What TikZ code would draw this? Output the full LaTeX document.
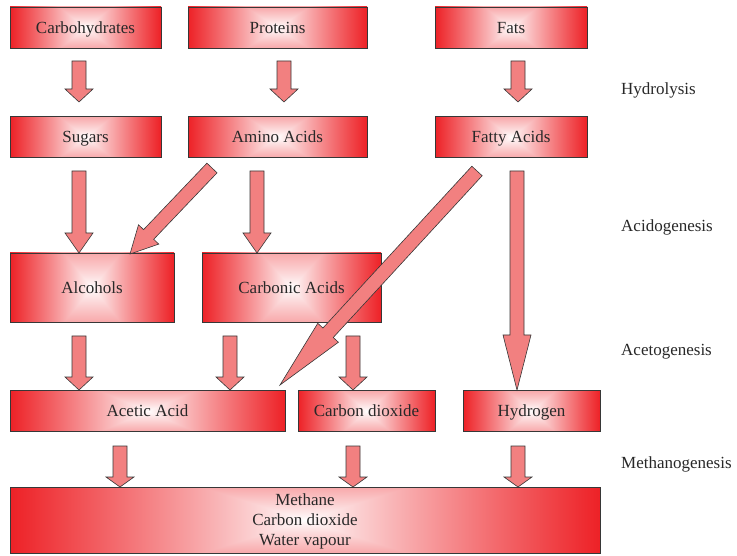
\documentclass[tikz,border=0pt]{standalone}
\usepackage{fontspec}
\setmainfont{Liberation Serif}
\usetikzlibrary{calc}

% rectangular gradient: white centre, red edges
\pgfdeclarefunctionalshading{rectgrad}{\pgfpoint{-50bp}{-50bp}}{\pgfpoint{50bp}{50bp}}{}{
  abs 0.35 mul exch abs
  2 copy lt {exch} if pop
  25 div dup 1 gt {pop 1} if
  0.9 exp
  dup 0.07 mul 1 exch sub exch
  dup 0.87 mul 1 exch sub exch
  0.85 mul 1 exch sub
}

\definecolor{arrowfill}{RGB}{242,128,128}
\definecolor{lineclr}{RGB}{55,55,55}
\definecolor{txt}{RGB}{40,40,40}

\tikzset{
  box/.style={draw=lineclr, line width=0.8pt, shade, shading=rectgrad,
    inner sep=0pt, text=txt, font=\fontsize{17}{20}\selectfont,
    text height=11.3pt, text depth=0pt},
  gasbox/.style={draw=lineclr, line width=0.8pt, shade, shading=rectgrad,
    inner sep=0pt, text=txt, font=\fontsize{17}{20}\selectfont,
    align=center, text depth=0pt},
  barrow/.style={draw=lineclr, line width=0.6pt, fill=arrowfill, line join=miter},
  stage/.style={anchor=west, inner sep=0pt, text=txt, font=\fontsize{17}{20}\selectfont,
    text height=11.3pt, text depth=0pt}
}

\newcommand\blockarrow[3]{% #1 head length, #2 start, #3 tip
  \coordinate (hb) at ($(#3)!#1!(#2)$);
  \draw[barrow] ($(#2)!7pt!90:(#3)$) -- ($(hb)!7pt!90:(#3)$) -- ($(hb)!14pt!90:(#3)$)
    -- (#3) -- ($(hb)!14pt!-90:(#3)$) -- ($(hb)!7pt!-90:(#3)$) -- ($(#2)!7pt!-90:(#3)$) -- cycle;
}

\begin{document}
\begin{tikzpicture}[x=1pt,y=-1pt]
\useasboundingbox (0,0) rectangle (737,556);

% boxes
\node[box, minimum width=151pt, minimum height=41pt] (carb) at (85.5,27.5) {Carbohydrates};
\node[box, minimum width=179pt, minimum height=41pt] (prot) at (277.5,27.5) {Proteins};
\node[box, minimum width=152pt, minimum height=41pt] (fats) at (511,27.5) {Fats};

\node[box, minimum width=151pt, minimum height=41pt] (sug) at (85.5,137) {Sugars};
\node[box, minimum width=179pt, minimum height=41pt] (amino) at (277.5,137) {Amino Acids};
\node[box, minimum width=152pt, minimum height=41pt] (fatty) at (511,137) {Fatty Acids};

\node[box, minimum width=164pt, minimum height=69pt] (alc) at (92,287.5) {Alcohols};
\node[box, minimum width=179pt, minimum height=69pt] (carbo) at (291.5,287.5) {Carbonic Acids};

\node[box, minimum width=275pt, minimum height=41pt] (acet) at (147.5,411) {Acetic Acid};
\node[box, minimum width=137pt, minimum height=41pt] (co2) at (366.5,411) {Carbon dioxide};
\node[box, minimum width=137pt, minimum height=41pt] (hyd) at (531.5,411) {Hydrogen};

\node[gasbox, minimum width=590pt, minimum height=66pt] (gas) at (305,520)
  {Methane\\Carbon dioxide\\Water vapour};

% stage labels
\node[stage] (l1) at (621,88.5) {Hydrolysis};
\node[stage] (l2) at (621,225.5) {Acidogenesis};
\node[stage] (l3) at (621,349.5) {Acetogenesis};
\node[stage] (l4) at (621,463) {Methanogenesis};

% arrow end points
\coordinate (a1s) at (79,61);   \coordinate (a1e) at (79,102);
\coordinate (a2s) at (284,61);  \coordinate (a2e) at (284,102);
\coordinate (a3s) at (518,61);  \coordinate (a3e) at (518,102);
\coordinate (a4s) at (79,171);  \coordinate (a4e) at (79,253);
\coordinate (a5s) at (212,168); \coordinate (a5e) at (130,254);
\coordinate (a6s) at (257,171); \coordinate (a6e) at (257,253);
\coordinate (a7s) at (477,171); \coordinate (a7e) at (280,385);
\coordinate (a8s) at (517,171); \coordinate (a8e) at (517,390);
\coordinate (a9s) at (79,336);  \coordinate (a9e) at (79,390);
\coordinate (a10s) at (230,336); \coordinate (a10e) at (230,390);
\coordinate (a11s) at (353,336); \coordinate (a11e) at (353,390);
\coordinate (a12s) at (120,446); \coordinate (a12e) at (120,487);
\coordinate (a13s) at (353,446); \coordinate (a13e) at (353,487);
\coordinate (a14s) at (518,446); \coordinate (a14e) at (518,487);

% arrows
\blockarrow{13pt}{a1s}{a1e}
\blockarrow{13pt}{a2s}{a2e}
\blockarrow{13pt}{a3s}{a3e}
\blockarrow{20pt}{a4s}{a4e}
\blockarrow{27pt}{a5s}{a5e}
\blockarrow{20pt}{a6s}{a6e}
\blockarrow{55pt}{a8s}{a8e}
\blockarrow{13pt}{a9s}{a9e}
\blockarrow{13pt}{a10s}{a10e}
\blockarrow{13pt}{a11s}{a11e}
\blockarrow{71pt}{a7s}{a7e}
\blockarrow{10pt}{a12s}{a12e}
\blockarrow{10pt}{a13s}{a13e}
\blockarrow{10pt}{a14s}{a14e}
\end{tikzpicture}
\end{document}
